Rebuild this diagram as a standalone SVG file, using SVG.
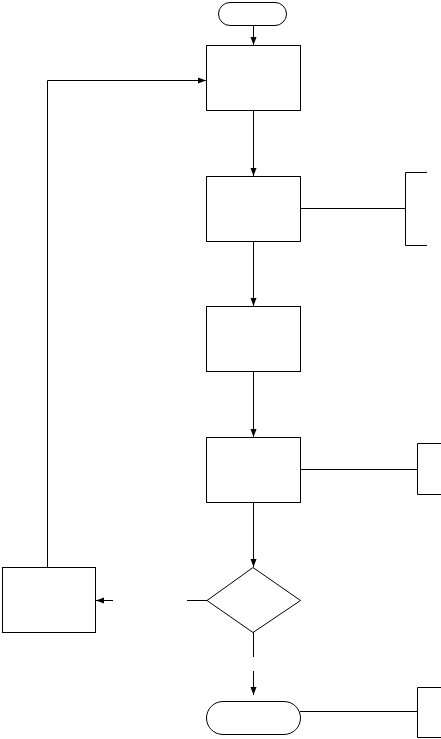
<svg xmlns="http://www.w3.org/2000/svg" width="441" height="739" viewBox="0 0 441 739">
<style>
.n{fill:#fff;stroke:#000;stroke-width:1}
.c{fill:none;stroke:#000;stroke-width:1}
</style>
<defs>
<marker id="ah" viewBox="0 0 8 8" refX="8" refY="4" markerWidth="8" markerHeight="8" markerUnits="userSpaceOnUse" orient="auto">
<path d="M0,1 L8,4 L0,7 Z" fill="#000"/>
</marker>
</defs>
<rect width="441" height="739" fill="#fff"/>
<g id="connectors">
<path class="c" d="M253.5,25 V45" marker-end="url(#ah)"/>
<path class="c" d="M253.5,110 V176" marker-end="url(#ah)"/>
<path class="c" d="M253.5,241 V306" marker-end="url(#ah)"/>
<path class="c" d="M253.5,371 V437" marker-end="url(#ah)"/>
<path class="c" d="M253.5,502 V567" marker-end="url(#ah)"/>
<path class="c" d="M253.5,632 V657"/>
<path class="c" d="M253.5,671 V695" marker-end="url(#ah)"/>
<path class="c" d="M187,600.5 H207"/>
<path class="c" d="M113,600.5 H96" marker-end="url(#ah)"/>
<path class="c" d="M47.5,567 V80.5 H206" marker-end="url(#ah)"/>
<path class="c" d="M300,208.5 H405.5"/>
<path class="c" d="M427,172.5 H405.5 V245.5 H427"/>
<path class="c" d="M300,469.5 H417.5"/>
<path class="c" d="M441,443.5 H417.5 V494.5 H441"/>
<path class="c" d="M300,711.5 H417.5"/>
<path class="c" d="M441,687.5 H417.5 V737.5 H441"/>
</g>
<g id="start"><rect class="n" x="218.5" y="2.5" width="68" height="23" rx="11.5"/></g>
<g id="box1"><rect class="n" x="206.5" y="45.5" width="94" height="65"/></g>
<g id="box2"><rect class="n" x="206.5" y="176.5" width="94" height="65"/></g>
<g id="box3"><rect class="n" x="206.5" y="306.5" width="94" height="65"/></g>
<g id="box4"><rect class="n" x="206.5" y="437.5" width="94" height="65"/></g>
<g id="decision"><path class="n" d="M253,567.5 L300.5,600.5 L253,632.5 L207,600.5 Z"/></g>
<g id="box5"><rect class="n" x="2.5" y="567.5" width="93" height="65"/></g>
<g id="end"><rect class="n" x="206.5" y="701.5" width="94" height="33" rx="16.5"/></g>
</svg>
